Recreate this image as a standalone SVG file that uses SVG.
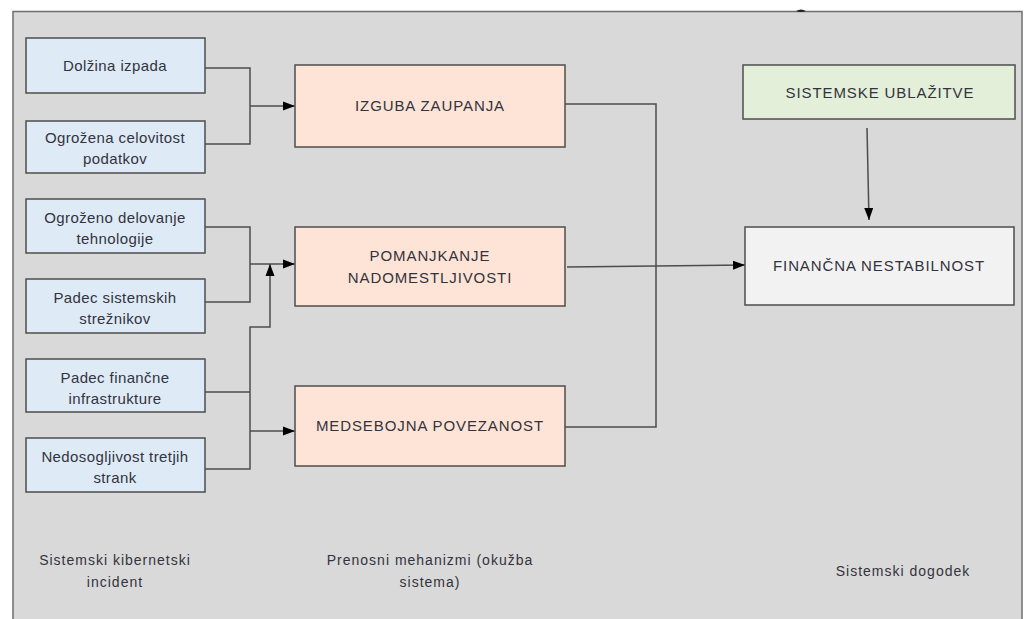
<svg xmlns="http://www.w3.org/2000/svg" width="1026" height="619" viewBox="0 0 1026 619">
<defs>
<style>
.frame{fill:#d9d9d9;stroke:#6e6e6e;stroke-width:1.5}
.box{stroke:#4d4d4d;stroke-width:1.5}
.blue{fill:#deebf7}
.peach{fill:#fde4d6}
.green{fill:#e3efd9}
.white{fill:#f2f2f2}
.t{font-family:"Liberation Sans",Arial,sans-serif;font-size:15px;fill:#33333d;text-anchor:middle;letter-spacing:0.4px}
.c{font-family:"Liberation Sans",Arial,sans-serif;font-size:15px;fill:#33333d;text-anchor:middle;letter-spacing:0.9px}
.b{font-family:"Liberation Sans",Arial,sans-serif;font-size:14px;fill:#33333d;text-anchor:middle;letter-spacing:1px}
.ln{fill:none;stroke:#4d4d4d;stroke-width:1.5}
</style>
<marker id="ah" viewBox="0 0 12 10" refX="12" refY="5" markerWidth="12" markerHeight="10" markerUnits="userSpaceOnUse" orient="auto">
<path d="M0,0.5 L12,5 L0,9.5 Z" fill="#000"/>
</marker>
</defs>
<rect x="0" y="0" width="1026" height="619" fill="#ffffff"/>
<rect class="frame" x="13" y="11.5" width="1009" height="620"/>
<path d="M796,11 Q801,8 806,11 Q801,13 796,11 Z" fill="#222"/>

<g id="connectors">
<path class="ln" d="M205,68 H250 V144 H205"/>
<path class="ln" d="M250,106 H295" marker-end="url(#ah)"/>
<path class="ln" d="M205,227 H250 V302 H205"/>
<path class="ln" d="M250,264 H295" marker-end="url(#ah)"/>
<path class="ln" d="M205,392 H250"/>
<path class="ln" d="M205,469 H250 V327 H270 V264" marker-end="url(#ah)"/>
<path class="ln" d="M250,431 H295" marker-end="url(#ah)"/>
<path class="ln" d="M565,104 H656 V427 H565"/>
<path class="ln" d="M567,267 L745,265" marker-end="url(#ah)"/>
<path class="ln" d="M867,128 L869,220" marker-end="url(#ah)"/>
</g>

<g id="n1"><rect class="box blue" x="26" y="38" width="179" height="55"/><text class="t" x="115" y="71">Dolžina izpada</text></g>
<g id="n2"><rect class="box blue" x="26" y="121" width="179" height="52"/><text class="t" x="115" y="143">Ogrožena celovitost</text><text class="t" x="115" y="164">podatkov</text></g>
<g id="n3"><rect class="box blue" x="26" y="199" width="179" height="54"/><text class="t" x="115" y="223">Ogroženo delovanje</text><text class="t" x="115" y="244">tehnologije</text></g>
<g id="n4"><rect class="box blue" x="26" y="279" width="179" height="54"/><text class="t" x="115" y="303">Padec sistemskih</text><text class="t" x="115" y="324">strežnikov</text></g>
<g id="n5"><rect class="box blue" x="26" y="359" width="179" height="53"/><text class="t" x="115" y="383">Padec finančne</text><text class="t" x="115" y="404">infrastrukture</text></g>
<g id="n6"><rect class="box blue" x="26" y="438" width="179" height="54"/><text class="t" x="115" y="462">Nedosogljivost tretjih</text><text class="t" x="115" y="483">strank</text></g>

<g id="m1"><rect class="box peach" x="295" y="65" width="270" height="82"/><text class="c" x="430" y="111">IZGUBA ZAUPANJA</text></g>
<g id="m2"><rect class="box peach" x="295" y="227" width="270" height="79"/><text class="c" x="430" y="261">POMANJKANJE</text><text class="c" x="430" y="283">NADOMESTLJIVOSTI</text></g>
<g id="m3"><rect class="box peach" x="295" y="386" width="270" height="80"/><text class="c" x="430" y="431">MEDSEBOJNA POVEZANOST</text></g>

<g id="r1"><rect class="box green" x="743" y="65" width="272" height="54"/><text class="c" x="880" y="98">SISTEMSKE UBLAŽITVE</text></g>
<g id="r2"><rect class="box white" x="745" y="227" width="269" height="78"/><text class="c" x="879" y="271">FINANČNA NESTABILNOST</text></g>

<g id="labels">
<text class="b" x="115" y="565">Sistemski kibernetski</text>
<text class="b" x="115" y="587">incident</text>
<text class="b" x="430" y="565">Prenosni mehanizmi (okužba</text>
<text class="b" x="430" y="587">sistema)</text>
<text class="b" x="903" y="576">Sistemski dogodek</text>
</g>
</svg>
